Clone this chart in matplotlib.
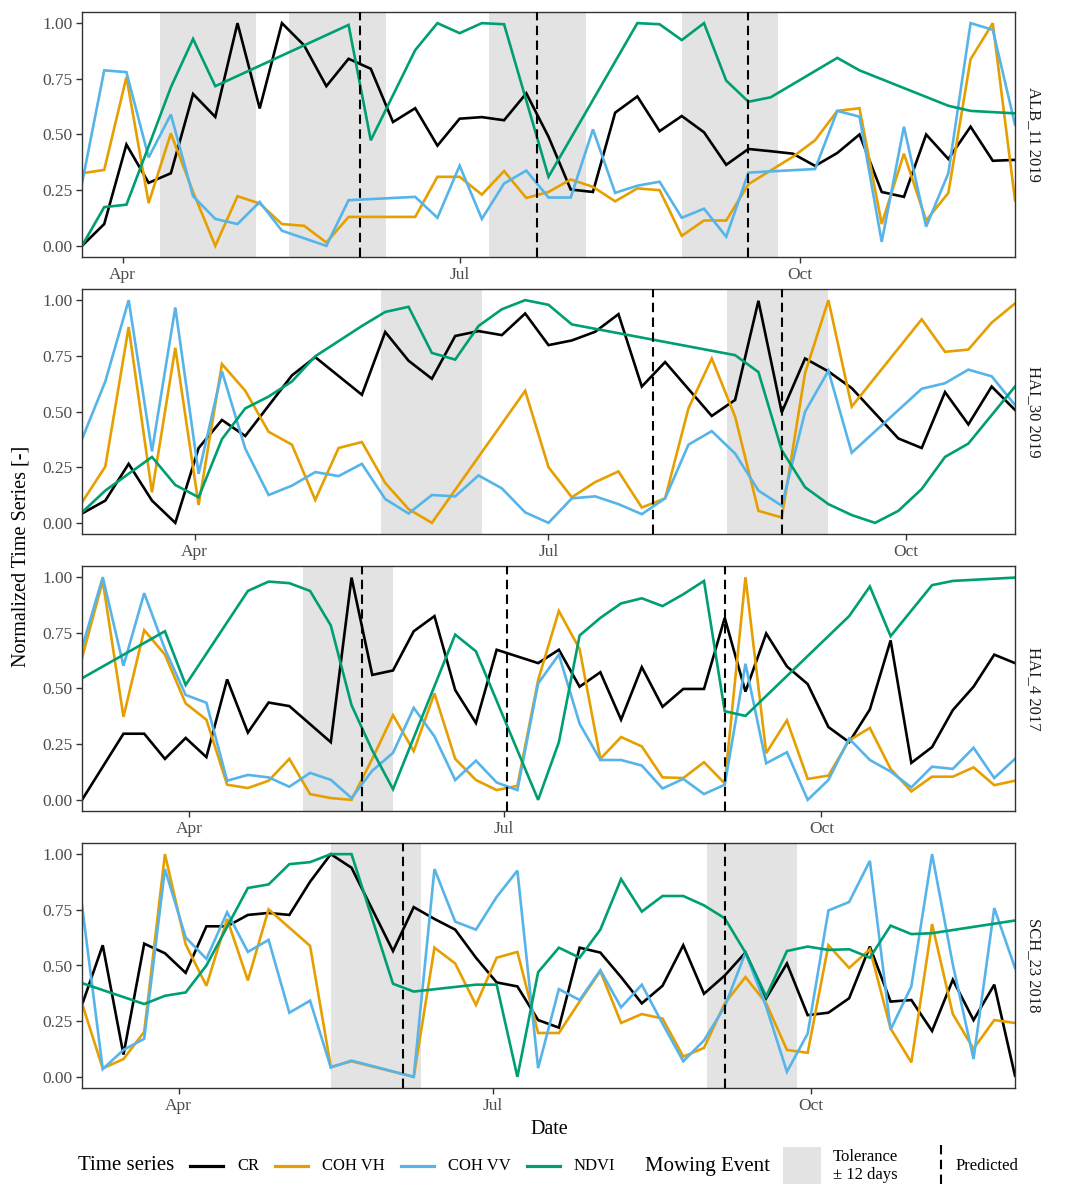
import numpy as np
import pandas as pd
import matplotlib
matplotlib.use("Agg")
import matplotlib.pyplot as plt
import matplotlib.dates as mdates
from matplotlib.lines import Line2D
from matplotlib.patches import Rectangle

nan = np.nan

# all series sampled on a 6 day grid starting at *_start, nan = no acquisition
# ALB_11 2019
alb11_start = "2019-03-21"
alb11_cr = [0.0, 0.098, 0.455, 0.283, 0.326, 0.682, 0.579, 1.0, 0.617, 1.0, 0.90, 0.717, 0.84, 0.795, 0.556,
            0.618, 0.45, 0.571, 0.578, 0.564, 0.685, 0.49, 0.253, 0.242, 0.598, 0.671, 0.515, 0.583, 0.51,
            0.364, 0.435, 0.425, 0.414, 0.359, 0.417, 0.5, 0.242, 0.22, 0.5, 0.39, 0.535, 0.382, 0.386]
alb11_vh = [0.326, 0.341, 0.758, 0.192, 0.505, 0.242, 0.0, 0.223, 0.19, 0.098, 0.09, 0.015, 0.13, nan, nan,
            0.13, 0.31, 0.31, 0.23, 0.336, 0.215, 0.242, 0.298, 0.265, 0.2, 0.258, 0.25, 0.045, 0.114,
            0.114, 0.277, nan, 0.40, 0.474, 0.606, 0.618, 0.098, 0.414, 0.114, 0.238, 0.838, 1.0, 0.205]
alb11_vv = [0.28, 0.788, 0.78, 0.397, 0.59, 0.223, 0.121, 0.098, 0.197, 0.068, nan, 0.0, 0.205, nan, nan,
            0.22, 0.126, 0.36, 0.121, 0.28, 0.338, 0.217, 0.217, 0.523, 0.238, 0.27, 0.288, 0.126, 0.167,
            0.041, 0.329, nan, nan, 0.345, 0.606, 0.58, 0.018, 0.535, 0.086, 0.326, 1.0, 0.97, 0.545]
alb11_ndvi = [0.0, 0.174, 0.185, 0.447, 0.712, 0.929, 0.717, nan, nan, nan, nan, nan, 0.992, 0.474, nan,
              0.879, 1.0, 0.955, 1.0, 0.995, nan, 0.31, nan, nan, nan, 1.0, 0.995, 0.924, 1.0,
              0.742, 0.647, 0.667, nan, nan, 0.844, 0.788, nan, nan, nan, 0.629, 0.606, nan, 0.595]
alb11_events = ["2019-04-24", "2019-05-29", "2019-07-22", "2019-09-12"]
alb11_predicted = ["2019-06-04", "2019-07-22", "2019-09-17"]

# HAI_30 2019
hai30_start = "2019-03-03"
hai30_cr = [0.042, 0.1, 0.265, 0.1, 0.0, 0.336, 0.462, 0.39, nan, 0.662, 0.744, nan, 0.575, 0.857, 0.728,
            0.647, 0.839, 0.861, 0.843, 0.94, 0.798, 0.819, 0.858, 0.937, 0.612, 0.722, nan, 0.48, 0.552,
            0.997, 0.496, 0.738, 0.68, 0.605, nan, 0.379, 0.336, 0.587, 0.442, 0.612, 0.507]
hai30_vh = [0.092, 0.253, 0.879, 0.137, 0.786, 0.08, 0.713, 0.593, 0.409, 0.351, 0.103, 0.336, 0.363, 0.179,
            0.062, 0.0, nan, nan, nan, 0.593, 0.25, 0.115, 0.183, 0.231, 0.069, 0.11, 0.514, 0.738, 0.477,
            0.054, 0.024, 0.673, 1.0, 0.522, nan, nan, 0.914, 0.768, 0.778, 0.899, 0.985]
hai30_vv = [0.376, 0.635, 1.0, 0.321, 0.967, 0.22, 0.68, 0.333, 0.125, 0.167, 0.228, 0.21, 0.265, 0.107,
            0.042, 0.125, 0.119, 0.213, 0.155, 0.047, 0.0, 0.11, 0.119, 0.084, 0.039, 0.11, 0.351, 0.412,
            0.311, 0.145, 0.077, 0.499, 0.683, 0.315, nan, nan, 0.602, 0.627, 0.688, 0.658, 0.529]
hai30_ndvi = [0.047, 0.145, nan, 0.296, 0.17, 0.115, 0.376, 0.514, 0.567, 0.635, 0.748, nan, 0.884, 0.947,
              0.97, 0.763, 0.733, 0.884, 0.959, 1.0, 0.979, 0.891, nan, nan, nan, nan, nan, nan, 0.753,
              0.677, 0.326, 0.16, 0.084, 0.035, 0.0, 0.054, 0.152, 0.296, 0.356, nan, 0.612]
hai30_events = ["2019-06-01", "2019-08-29"]
hai30_predicted = ["2019-07-28", "2019-08-30"]

# HAI_4 2017
hai4_start = "2017-03-01"
hai4_cr = [0.0, nan, 0.297, 0.297, 0.184, 0.278, 0.192, 0.541, 0.302, 0.437, 0.421, nan, 0.259, 0.998,
           0.561, 0.581, 0.757, 0.825, 0.493, 0.345, 0.674, nan, 0.614, 0.674, 0.508, 0.573, 0.36, 0.596,
           0.418, 0.498, 0.498, 0.817, 0.486, 0.747, 0.599, 0.52, 0.327, 0.259, 0.406, 0.716, 0.166,
           0.237, 0.403, 0.508, 0.652, 0.614]
hai4_vh = [0.637, 0.983, 0.373, 0.762, 0.652, 0.433, 0.36, 0.068, 0.053, 0.086, 0.184, 0.026, 0.008, 0.0,
           0.184, 0.38, 0.219, 0.478, 0.184, 0.089, 0.044, 0.063, 0.538, 0.848, 0.677, 0.184, 0.282, 0.24,
           0.101, 0.098, 0.169, 0.074, 1.0, 0.21, 0.357, 0.094, 0.109, 0.267, 0.323, 0.139, 0.038,
           0.104, 0.104, 0.146, 0.066, 0.086]
hai4_vv = [0.682, 1.0, 0.602, 0.928, 0.677, 0.471, 0.436, 0.086, 0.112, 0.101, 0.059, 0.121, 0.09, 0.008,
           0.131, 0.211, 0.413, 0.285, 0.089, 0.176, 0.078, 0.044, 0.523, 0.652, 0.342, 0.179, 0.179,
           0.154, 0.051, 0.094, 0.026, 0.068, 0.611, 0.164, 0.214, 0.0, 0.089, 0.275, 0.179, 0.127,
           0.056, 0.149, 0.139, 0.234, 0.098, 0.184]
hai4_ndvi = [0.546, nan, nan, nan, 0.757, 0.516, nan, nan, 0.938, 0.98, 0.973, 0.938, 0.783, 0.425, 0.222,
             0.048, nan, nan, 0.742, 0.667, nan, nan, 0.0, 0.259, 0.738, 0.817, 0.882, 0.905, 0.87, 0.923,
             0.983, 0.398, 0.377, nan, nan, nan, nan, 0.825, 0.958, 0.735, nan, 0.964, 0.983, nan, nan,
             0.998]
hai4_events = ["2017-05-17"]
hai4_predicted = ["2017-05-21", "2017-07-02", "2017-09-03"]

# SCH_23 2018
sch23_start = "2018-03-04"
sch23_cr = [0.323, 0.591, 0.1, 0.598, 0.555, 0.467, 0.676, 0.676, 0.727, 0.736, 0.727, 0.876, 1.0, 0.939,
            0.752, 0.565, 0.762, 0.709, 0.661, 0.535, 0.424, 0.406, 0.255, 0.221, 0.58, 0.558, 0.448,
            0.33, 0.409, 0.591, 0.373, 0.455, 0.558, 0.353, 0.509, 0.277, 0.288, 0.353, 0.585, 0.338,
            0.345, 0.206, 0.436, 0.255, 0.414, 0.005]
sch23_vh = [0.33, 0.038, 0.08, 0.202, 1.0, 0.595, 0.409, 0.709, 0.433, 0.752, nan, 0.588, 0.045, 0.07, nan,
            nan, 0.0, 0.58, 0.509, 0.323, 0.535, 0.561, 0.197, 0.197, 0.338, 0.474, 0.242, 0.282, 0.262,
            0.091, 0.13, 0.33, 0.448, 0.33, 0.121, 0.108, 0.591, 0.489, 0.573, 0.217, 0.065, 0.686,
            0.282, 0.126, 0.255, 0.242]
sch23_vv = [0.77, 0.035, 0.121, 0.171, 0.933, 0.626, 0.53, 0.739, 0.561, 0.615, 0.288, 0.342, 0.042, 0.073,
            nan, nan, 0.0, 0.933, 0.697, 0.661, 0.808, 0.926, 0.039, 0.394, 0.345, 0.479, 0.312, 0.414,
            0.239, 0.07, 0.164, 0.315, 0.558, 0.315, 0.023, 0.194, 0.747, 0.785, 0.97, 0.212, 0.406,
            1.0, 0.505, 0.08, 0.758, 0.489]
sch23_ndvi = [0.421, nan, nan, 0.327, 0.364, 0.379, 0.5, nan, 0.848, 0.864, 0.955, 0.964, 1.0, 1.0, nan,
              0.418, 0.383, nan, nan, 0.414, 0.414, 0.0, 0.47, 0.58, 0.535, 0.661, 0.888, 0.742, 0.812,
              0.812, 0.77, 0.712, 0.558, 0.361, 0.565, 0.585, 0.57, 0.573, 0.535, 0.679, 0.641, 0.645,
              nan, nan, nan, 0.702]
sch23_events = ["2018-05-28", "2018-09-14"]
sch23_predicted = ["2018-06-05", "2018-09-06"]

panels = [
    {"label": "ALB_11 2019", "start": alb11_start, "cr": alb11_cr, "vh": alb11_vh, "vv": alb11_vv,
     "ndvi": alb11_ndvi, "events": alb11_events, "predicted": alb11_predicted},
    {"label": "HAI_30 2019", "start": hai30_start, "cr": hai30_cr, "vh": hai30_vh, "vv": hai30_vv,
     "ndvi": hai30_ndvi, "events": hai30_events, "predicted": hai30_predicted},
    {"label": "HAI_4 2017", "start": hai4_start, "cr": hai4_cr, "vh": hai4_vh, "vv": hai4_vv,
     "ndvi": hai4_ndvi, "events": hai4_events, "predicted": hai4_predicted},
    {"label": "SCH_23 2018", "start": sch23_start, "cr": sch23_cr, "vh": sch23_vh, "vv": sch23_vv,
     "ndvi": sch23_ndvi, "events": sch23_events, "predicted": sch23_predicted},
]

series = [("cr", "CR", "#000000"), ("vh", "COH VH", "#E69F00"),
          ("vv", "COH VV", "#56B4E9"), ("ndvi", "NDVI", "#009E73")]
tolerance = 13  # days either side, drawn width of the grey band
shade = "#e3e3e3"
dash = (0, (4.5, 2.6))

plt.rcParams['font.family'] = ['Liberation Serif', 'DejaVu Serif']

W, H = 1067, 1200
fig = plt.figure(figsize=(W / 100, H / 100), dpi=100)

def px(x):
    return x / W

def py(y):
    return 1 - y / H

tops = [12, 289, 566, 843]
for p, top in zip(panels, tops):
    ax = fig.add_axes([px(82), py(top + 245), px(1015) - px(82), 245 / H])
    dates = pd.date_range(p["start"], periods=len(p["cr"]), freq="6D")
    for ev in p["events"]:
        t = pd.Timestamp(ev)
        ax.axvspan(t - pd.Timedelta(days=tolerance), t + pd.Timedelta(days=tolerance),
                   color=shade, lw=0, zorder=0)
    for key, name, col in series:
        vals = np.array(p[key], dtype=float)
        ok = ~np.isnan(vals)
        ax.plot(dates[ok], vals[ok], color=col, lw=1.9, zorder=2, solid_joinstyle="miter")
    for pr in p["predicted"]:
        ax.axvline(pd.Timestamp(pr), color="black", ls=dash, lw=1.5, zorder=3)
    ax.set_xlim(dates[0], dates[-1])
    ax.set_ylim(-0.05, 1.05)
    ax.set_yticks([0, 0.25, 0.5, 0.75, 1.0])
    ax.set_yticklabels(["0.00", "0.25", "0.50", "0.75", "1.00"])
    ax.xaxis.set_major_locator(mdates.MonthLocator(bymonth=[4, 7, 10]))
    ax.xaxis.set_major_formatter(mdates.DateFormatter("%b"))
    ax.tick_params(colors="#333333", labelcolor="#4d4d4d", labelsize=12.5, length=4.5, width=1.0, pad=2.5)
    for s in ax.spines.values():
        s.set_color("#333333")
        s.set_linewidth(1.0)
    ax.text(1.012, 0.5, p["label"], transform=ax.transAxes, rotation=-90, va="center", ha="left",
            fontsize=12, color="#1a1a1a")

fig.text(px(21), py(556), "Normalized Time Series [-]", rotation=90, va="center", ha="center", fontsize=14.5)
fig.text(px(549), py(1130), "Date", va="center", ha="center", fontsize=14.5)

# legend along the bottom
ly = py(1166)
fig.text(px(78), ly, "Time series", va="center", ha="left", fontsize=15)
keys = [(190, 237), (275, 322), (401, 448), (527, 574)]
for (x0, xt), (key, name, col) in zip(keys, series):
    fig.add_artist(Line2D([px(x0), px(x0 + 33)], [ly, ly], color=col, lw=2.3, transform=fig.transFigure))
    fig.text(px(xt), ly, name, va="center", ha="left", fontsize=12)
fig.text(px(645), ly, "Mowing Event", va="center", ha="left", fontsize=15)
fig.add_artist(Rectangle((px(783), py(1184)), px(38), 37 / H, color=shade, lw=0, transform=fig.transFigure))
fig.text(px(833), ly, "Tolerance\n\u00b1 12 days", va="center", ha="left", fontsize=12,
         multialignment="center", linespacing=1.1)
fig.add_artist(Line2D([px(941), px(941)], [py(1145), py(1186)], color="black", ls=dash, lw=1.5,
                      transform=fig.transFigure))
fig.text(px(956), ly, "Predicted", va="center", ha="left", fontsize=12)

fig.savefig("out.png", dpi=100)
